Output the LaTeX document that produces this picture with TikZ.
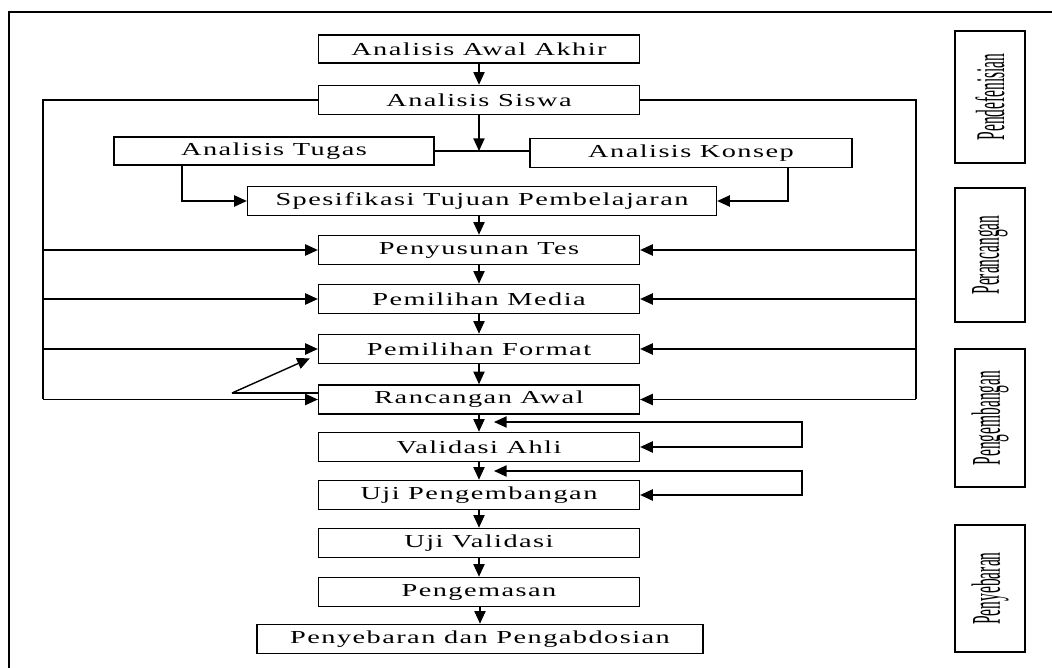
\documentclass[tikz,border=0pt]{standalone}
\usepackage{fontspec}
\setmainfont{Liberation Serif}
\newfontfamily\boxfont[FakeStretch=1.55,LetterSpace=8]{Liberation Serif}
\newfontfamily\stagefont[FakeStretch=0.38]{Liberation Serif}
\usetikzlibrary{arrows.meta}
\tikzset{
    stepbox/.style={draw,line width=1pt,minimum width=8.02cm,minimum height=0.73cm,inner sep=0pt,font=\boxfont\fontsize{13}{15}\selectfont},
    stagebox/.style={draw,line width=1pt,rotate=90,minimum height=1.75cm,inner sep=0pt,font=\stagefont\fontsize{29}{30}\selectfont},
    link/.style={line width=1pt},
    arr/.style={line width=1pt,-{Triangle[length=9pt,width=8pt]}},
    twoway/.style={line width=1pt,{Triangle[length=9pt,width=8pt]}-{Triangle[length=9pt,width=8pt]}}
}
\begin{document}
\begin{tikzpicture}[x=0.025cm,y=-0.025cm]
\useasboundingbox (0,0) rectangle (1052,668);
\draw[link] (9,668) -- (9,12) -- (1052,12);

% main column
\node[stepbox,minimum height=0.7cm] (awal) at (479,49) {Analisis Awal Akhir};
\node[stepbox] (siswa) at (479,100) {Analisis Siswa};
\node[stepbox,minimum width=8cm,minimum height=0.7cm] (tugas) at (274,151) {Analisis Tugas};
\node[stepbox,minimum width=8.05cm] (konsep) at (691,153) {Analisis Konsep};
\node[stepbox,minimum width=11.72cm] (spesif) at (482,201) {Spesifikasi Tujuan Pembelajaran};
\node[stepbox] (tes) at (479,250) {Penyusunan Tes};
\node[stepbox] (media) at (479,299) {Pemilihan Media};
\node[stepbox] (format) at (479,349) {Pemilihan Format};
\node[stepbox] (rancangan) at (479,399.5) {Rancangan Awal};
\node[stepbox] (validasi) at (479,447) {Validasi Ahli};
\node[stepbox] (ujipeng) at (479,495) {Uji Pengembangan};
\node[stepbox] (ujival) at (479,543) {Uji Validasi};
\node[stepbox] (kemas) at (479,592) {Pengemasan};
\node[stepbox,minimum width=11.15cm] (sebar) at (480,639) {Penyebaran dan Pengabdosian};

% stages
\node[stagebox,minimum width=3.3cm] (pendef) at (990,97) {Pendefenisian};
\node[stagebox,minimum width=3.35cm] (rancang) at (990,255) {Perancangan};
\node[stagebox,minimum width=3.45cm] (kembang) at (990,418) {Pengembangan};
\node[stagebox,minimum width=3.18cm] (sebarstage) at (990,588.5) {Penyebaran};

\draw[arr] (awal) -- (siswa);
\coordinate (jn) at (siswa.south |- tugas.east);
\draw[link] (tugas.east) -- (konsep.west |- tugas.east);
\draw[arr] (siswa) -- (jn);
\draw[arr] ([xshift=-2.3cm]tugas.south) |- (spesif.west);
\draw[arr] ([xshift=2.42cm]konsep.south) |- (spesif.east);
\foreach \a/\b in {spesif/tes,tes/media,media/format,format/rancangan,rancangan/validasi,validasi/ujipeng,ujipeng/ujival,ujival/kemas,kemas/sebar}
    \draw[arr] (\a.south -| \b.north) -- (\b.north);

% feedback lines
\coordinate (lbus) at (43,100);
\coordinate (rbus) at (916,100);
\draw[link] (siswa.west) -- (lbus) -- (lbus |- rancangan.west);
\draw[link] (siswa.east) -- (rbus) -- (rbus |- rancangan.east);
\foreach \n in {tes,media,format,rancangan}{
    \draw[arr] (lbus |- \n.west) -- (\n.west);
    \draw[arr] (rbus |- \n.east) -- (\n.east);
}
\coordinate (kink) at (232,393);
\draw[link] (rancangan.west |- kink) -- (kink);
\draw[arr] (kink) -- ([xshift=-0.2cm,yshift=0.15cm]format.south west);

% revision loops
\coordinate (lp1) at (494,422);
\coordinate (lp1r) at (802,422);
\coordinate (lp2) at (494,471);
\coordinate (lp2r) at (802,471);
\draw[twoway] (lp1) -- (lp1r) |- (validasi.east);
\draw[twoway] (lp2) -- (lp2r) |- (ujipeng.east);
\end{tikzpicture}
\end{document}
